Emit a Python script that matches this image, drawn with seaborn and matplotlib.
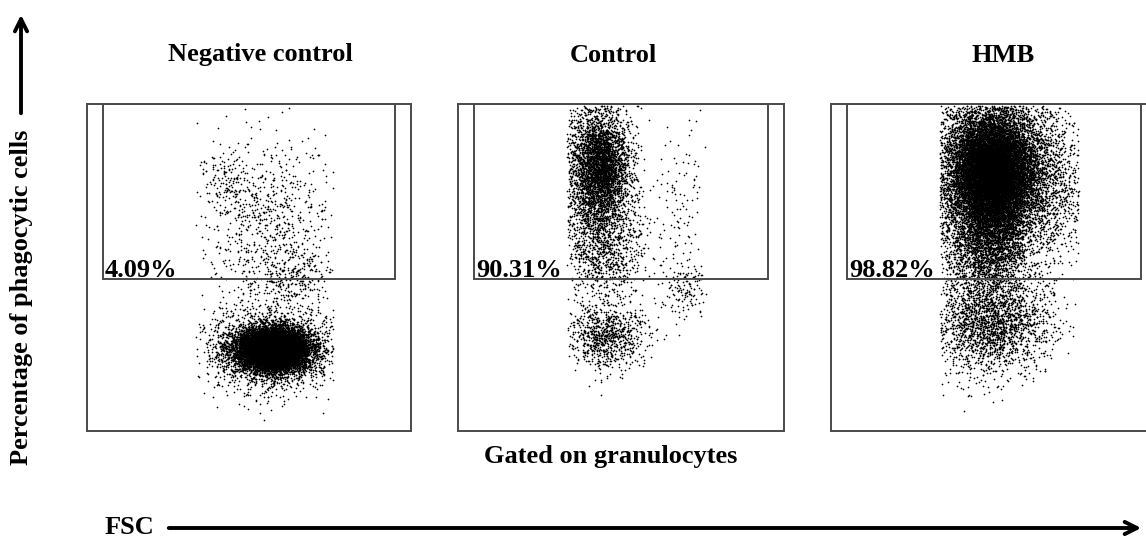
import numpy as np
import pandas as pd
import matplotlib
matplotlib.use("Agg")
import matplotlib.pyplot as plt
from matplotlib.patches import Rectangle, FancyArrowPatch
import seaborn as sns

sns.set_style("white")
plt.rcParams["font.family"] = ["Liberation Serif", "DejaVu Serif"]
plt.rcParams["font.weight"] = "bold"
plt.rcParams["text.color"] = "black"

# ---- data -------------------------------------------------------------
samples = ["Negative control", "Control", "HMB"]
gate_percent = [4.09, 90.31, 98.82]

# event populations per sample, in channel units (0-1000):
# centre FSC, centre phagocytosis signal, spread FSC, spread signal, events
neg_cx = [575, 560, 560, 430, 640]
neg_cy = [250, 250, 620, 760, 470]
neg_sx = [55, 95, 100, 40, 60]
neg_sy = [32, 60, 150, 60, 40]
neg_n = [9000, 2200, 800, 150, 200]

ctl_cx = [430, 450, 450, 690, 680, 440]
ctl_cy = [790, 550, 290, 440, 700, 820]
ctl_sx = [52, 62, 60, 35, 35, 30]
ctl_sy = [115, 75, 50, 45, 160, 60]
ctl_n = [3300, 750, 850, 130, 110, 900]

hmb_cx = [490, 530, 480, 490]
hmb_cy = [790, 780, 560, 330]
hmb_sx = [60, 115, 70, 90]
hmb_sy = [90, 130, 80, 75]
hmb_n = [11000, 6000, 2000, 2100]

fsc_range = (335, 760)
gate_x = (49, 951)
gate_y = (465, 1000)

populations = [
    (neg_cx, neg_cy, neg_sx, neg_sy, neg_n),
    (ctl_cx, ctl_cy, ctl_sx, ctl_sy, ctl_n),
    (hmb_cx, hmb_cy, hmb_sx, hmb_sy, hmb_n),
]


def events(cx, cy, sx, sy, n, seed):
    gen = np.random.default_rng(seed)
    parts = []
    for a, b, c, d, k in zip(cx, cy, sx, sy, n):
        parts.append(np.column_stack([gen.normal(a, c, k), gen.normal(b, d, k)]))
    pts = np.vstack(parts)
    keep = ((pts[:, 0] > fsc_range[0]) & (pts[:, 0] < fsc_range[1])
            & (pts[:, 1] > 5) & (pts[:, 1] < 995))
    return pd.DataFrame(pts[keep], columns=["FSC", "signal"])


# ---- layout (pixels of a 1146 x 541 canvas) ----------------------------
W, H = 1146, 541
fig = plt.figure(figsize=(W / 100, H / 100), dpi=100)

panel_left = [87, 458, 831]
panel_w = [324, 326, 326]
panel_top, panel_bottom = 104, 431
title_x = [260, 613, 1003]
frame_col = "#4a4a4a"

for i, (name, pct) in enumerate(zip(samples, gate_percent)):
    ax = fig.add_axes([panel_left[i] / W, (H - panel_bottom) / H,
                       panel_w[i] / W, (panel_bottom - panel_top) / H])
    df = events(*populations[i], seed=11 + i)
    sns.scatterplot(data=df, x="FSC", y="signal", ax=ax, s=1.5,
                    color="black", linewidth=0, marker="o", legend=False)
    ax.set_xlim(0, 1000)
    ax.set_ylim(0, 1000)
    ax.set_xticks([])
    ax.set_yticks([])
    ax.set_xlabel("")
    ax.set_ylabel("")
    for sp in ax.spines.values():
        sp.set_visible(True)
        sp.set_color(frame_col)
        sp.set_linewidth(1.4)
    ax.add_patch(Rectangle((gate_x[0], gate_y[0]), gate_x[1] - gate_x[0],
                           gate_y[1] - gate_y[0], fill=False,
                           edgecolor=frame_col, linewidth=1.4, zorder=5))
    ax.text(gate_x[0] + 6, gate_y[0] + 6, f"{pct:.2f}%", fontsize=19,
            fontweight="bold", color="black", ha="left", va="baseline",
            zorder=6)
    fig.text(title_x[i] / W, 1 - 55 / H, name, fontsize=19,
             fontweight="bold", color="black", ha="center", va="center")

fig.text(611 / W, 1 - 456 / H, "Gated on granulocytes", fontsize=19,
         fontweight="bold", color="black", ha="center", va="center")

# axis descriptors with arrows
fig.text(22 / W, 1 - 297 / H, "Percentage of phagocytic cells", fontsize=19,
         fontweight="bold", color="black", rotation=90,
         ha="center", va="center")
fig.add_artist(FancyArrowPatch(
    (21 / W, 1 - 116 / H), (21 / W, 1 - 12 / H), transform=fig.transFigure,
    arrowstyle="->", mutation_scale=22, linewidth=2.8, color="black"))

fig.text(105 / W, 1 - 528 / H, "FSC", fontsize=19, fontweight="bold",
         color="black", ha="left", va="center")
fig.add_artist(FancyArrowPatch(
    (166 / W, 1 - 528 / H), (1144 / W, 1 - 528 / H), transform=fig.transFigure,
    arrowstyle="->", mutation_scale=22, linewidth=2.8, color="black"))

fig.savefig("out.png", dpi=100)
